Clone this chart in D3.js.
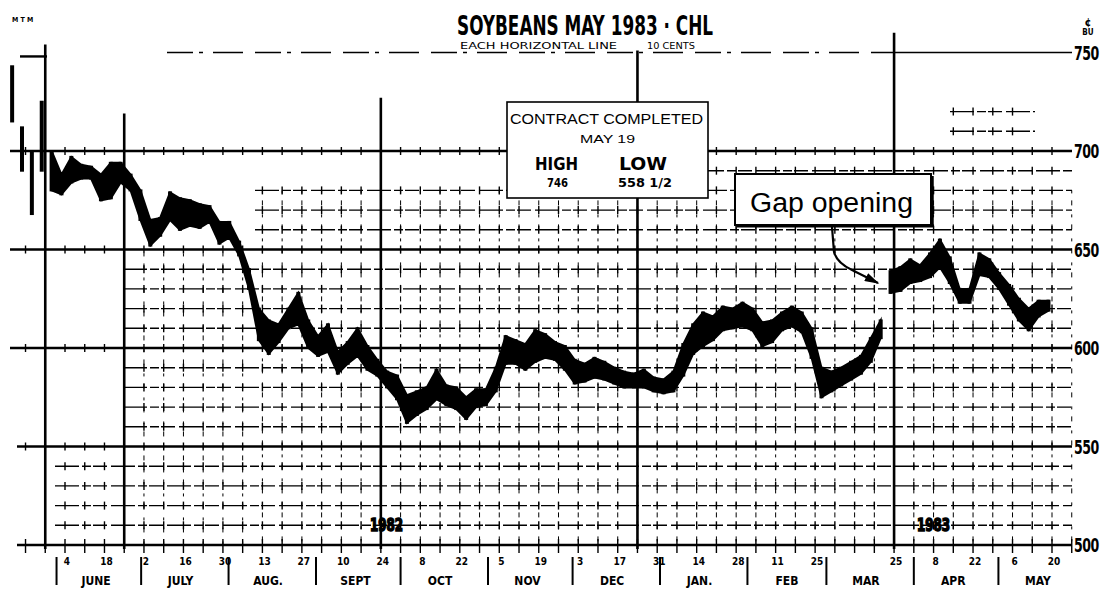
<html>
<head>
	<title>soybeans may 1983</title>
	<style>
		body { margin:0; padding:0; background:#fff; }
		svg { display:block; }
		.major { stroke:#000; stroke-width:2.4; }
		.minor { stroke:#000; stroke-width:1.4; stroke-dasharray:24,3,9,2,14,4; }
		.cross { stroke:#000; stroke-width:1.4; }
		.weekline { stroke:#000; stroke-width:1; stroke-dasharray:3,7,5,9; }
		.heavy { stroke:#000; stroke-width:2.6; }
		.cond { font-family:"DejaVu Sans Condensed","Liberation Sans Narrow",sans-serif; font-weight:bold; fill:#000; }
		.plain { font-family:"Liberation Sans",Arial,sans-serif; fill:#000; }
	</style>
</head>
<body>
<svg width="1105" height="589"></svg>
<script src="https://d3js.org/d3.v7.min.js"></script>
<script>
	// half-week high / low in cents (first bar mid May 1982)
	var firstBar = new Date(1982, 4, 16, 6);
	var highs = [743,712,699,725,700,688,697,693,692,688,
		694,694,688,680,665,666,679,676,675,673,
		672,664,664,654,640,620,614,612,620,628,
		614,606,612,598,603,610,601,594,588,586,
		576,578,580,589,581,580,575,579,579,590,
		606,604,602,609,607,603,601,594,592,595,
		593,590,588,587,589,585,584,588,602,612,
		618,616,621,620,623,620,613,614,618,621,
		618,610,590,588,590,593,596,605,614,639,
		641,645,642,648,655,646,630,630,648,645,
		638,632,625,620,624,624];
	var lows = [715,690,668,690,680,678,684,686,686,675,
		676,684,680,665,652,657,665,660,662,661,
		664,653,656,647,630,604,597,603,610,612,
		600,596,598,587,592,596,589,586,580,574,
		562,566,569,574,571,569,564,570,571,578,
		592,592,589,593,595,594,589,582,583,585,
		584,582,580,580,580,578,577,578,586,597,
		601,604,609,610,611,609,601,603,609,611,
		608,595,575,578,581,584,587,593,605,628,
		629,633,634,636,641,633,623,623,637,636,
		630,622,614,609,616,619];
	var gapAfter = 88;   // last bar before the March gap

	var priceLabels = [750,700,650,600,550,500];
	var monthNames = ["JUNE","JULY","AUG.","SEPT","OCT","NOV","DEC","JAN.","FEB","MAR","APR","MAY"];
	var monthStarts = ["1982-06-01","1982-07-01","1982-08-01","1982-09-01","1982-10-01","1982-11-01",
		"1982-12-01","1983-01-01","1983-02-01","1983-03-01","1983-04-01","1983-05-01"];
	var tickDates = ["1982-06-04","1982-06-18","1982-07-02","1982-07-16","1982-07-30","1982-08-13",
		"1982-08-27","1982-09-10","1982-09-24","1982-10-08","1982-10-22","1982-11-05","1982-11-19",
		"1982-12-03","1982-12-17","1982-12-31","1983-01-14","1983-01-28","1983-02-11","1983-02-25",
		"1983-03-25","1983-04-08","1983-04-22","1983-05-06","1983-05-20"];
	var contractLines = ["1982-05-28","1982-06-25","1982-09-24","1982-12-24","1983-03-25"];
	var contractTops = [754,719,727,751,760];
	var years = ["1982","1983"];
	var yearDates = ["1982-09-26","1983-04-08"];

	var parse = d3.timeParse("%Y-%m-%d");
	var svg = d3.select("svg");

	var x = d3.scaleTime().domain([new Date(1982,5,4), new Date(1983,4,20)]).range([65,1052]);
	var y = d3.scaleLinear().domain([500,750]).range([545,52.5]);
	var right = 1072;

	var fridays = d3.timeFriday.range(new Date(1982,4,20), new Date(1983,4,28));

	// faint broken weekly columns
	svg.selectAll(".weekline").data(fridays.filter(function(f){ return x(f) > 130 && x(f) < right; }))
		.enter().append("line")
		.attr("class","weekline")
		.attr("x1", function(d){ return x(d); }).attr("x2", function(d){ return x(d); })
		.attr("y1", function(d){ return x(d) > 250 ? y(680) : y(648); }).attr("y2", y(500));

	// minor grid lines, every 10 cents
	var minors = d3.range(510, 750, 10).filter(function(p){ return p % 50 != 0 && p < 730; });
	function minorFrom(p) {
		if (p >= 710) return 950;
		if (p == 690) return 700;
		if (p >= 660) return 255;
		if (p >= 560) return 123;
		return 55;
	}
	function minorTo(p) { return p >= 710 ? 1035 : right; }

	svg.selectAll(".minor").data(minors).enter().append("line")
		.attr("class","minor")
		.attr("x1", minorFrom).attr("x2", minorTo)
		.attr("y1", function(d){ return y(d); }).attr("y2", function(d){ return y(d); });

	// little crosses where weekly columns meet the lines
	var crosses = [];
	minors.concat([700,650,600,550]).forEach(function(p){
		var from = p % 50 == 0 ? 10 : minorFrom(p), to = p % 50 == 0 ? right : minorTo(p);
		fridays.forEach(function(f){
			var fx = x(f);
			if (fx > from + 3 && fx < to - 3) crosses.push({f:f, p:p});
		});
	});
	svg.selectAll(".cross").data(crosses).enter().append("line")
		.attr("class","cross")
		.attr("x1", function(d){ return x(d.f); }).attr("x2", function(d){ return x(d.f); })
		.attr("y1", function(d){ return y(d.p) - 4; }).attr("y2", function(d){ return y(d.p) + 4; });

	// major lines
	svg.selectAll(".major").data([700,650,600,550,500]).enter().append("line")
		.attr("class","major")
		.attr("x1", function(d){ return d >= 600 ? 10 : 17; }).attr("x2", right)
		.attr("y1", function(d){ return y(d); }).attr("y2", function(d){ return y(d); });

	// the 750 line is broken up on the original
	svg.append("line").attr("class","major").attr("x1",20).attr("x2",47).attr("y1",y(748)).attr("y2",y(748));
	svg.append("line").attr("class","minor").attr("x1",167).attr("x2",x(parse("1983-03-25"))).attr("y1",y(750)).attr("y2",y(750))
		.style("stroke-dasharray","26,6,4,10,30,12");
	svg.append("line").attr("class","major").style("stroke-width",1.6).attr("x1",x(parse("1983-03-25"))).attr("x2",right).attr("y1",y(750)).attr("y2",y(750));

	// heavy contract lines
	svg.selectAll(".heavy").data(contractLines).enter().append("line")
		.attr("class","heavy")
		.attr("x1", function(d){ return x(parse(d)); }).attr("x2", function(d){ return x(parse(d)); })
		.attr("y1", function(d,i){ return y(contractTops[i]); }).attr("y2", 549);

	// bottom axis ticks
	svg.selectAll(".axtick").data(fridays).enter().append("line")
		.attr("class","cross")
		.attr("x1", function(d){ return x(d); }).attr("x2", function(d){ return x(d); })
		.attr("y1", 539).attr("y2", 553);

	svg.selectAll(".daylab").data(tickDates).enter().append("text")
		.attr("class","cond")
		.attr("x", function(d){ return x(parse(d)) + 2; })
		.attr("y", 565)
		.attr("text-anchor","middle")
		.style("font-size","10px")
		.text(function(d){ return +d.slice(8); });

	svg.selectAll(".msep").data(monthStarts).enter().append("line")
		.attr("class","heavy").style("stroke-width",2)
		.attr("x1", function(d){ return x(parse(d)); }).attr("x2", function(d){ return x(parse(d)); })
		.attr("y1", 557).attr("y2", 585);

	svg.selectAll(".mlab").data(monthNames).enter().append("text")
		.attr("class","cond")
		.attr("x", function(d,i){ return x(d3.timeDay.offset(parse(monthStarts[i]), 14)); })
		.attr("y", 585)
		.attr("text-anchor","middle")
		.style("font-size","12px")
		.text(function(d){ return d; });

	// price labels on the right, tall and narrow
	svg.selectAll(".plab").data(priceLabels).enter().append("text")
		.attr("class","cond")
		.attr("transform", function(d){ return "translate(1074," + (y(d) + 7) + ") scale(1,1.45)"; })
		.style("font-size","14px")
		.style("letter-spacing","-0.5px")
		.text(function(d){ return d; });
	svg.append("text").attr("class","cond").attr("x",1088).attr("y",26).attr("text-anchor","middle").style("font-size","11px").text("¢");
	svg.append("text").attr("class","cond").attr("x",1088).attr("y",35).attr("text-anchor","middle").style("font-size","8px").text("BU");
	svg.append("text").attr("class","cond").attr("x",12).attr("y",22).style("font-size","7px").text("M   T   M");

	// price bars: a thin high-low bar for every point, plus a ragged band split at the gap
	var bars = highs.map(function(h,i){
		return { d: d3.timeHour.offset(firstBar, i*84), hi: h, lo: lows[i], i: i };
	});
	var area = d3.area()
		.x(function(d){ return x(d.d); })
		.y0(function(d){ return y(d.lo); })
		.y1(function(d){ return y(d.hi); })
		.curve(d3.curveLinear);
	var segments = [
		bars.filter(function(d){ return d.i >= 4 && d.i <= gapAfter; }),
		bars.filter(function(d){ return d.i > gapAfter; })
	];
	svg.selectAll(".band").data(segments).enter().append("path")
		.attr("class","band")
		.attr("d", area)
		.attr("fill","#000").attr("stroke","#000").attr("stroke-width",2).attr("stroke-linejoin","miter");
	svg.selectAll(".bar").data(bars).enter().append("rect")
		.attr("class","bar")
		.attr("x", function(d){ return x(d.d) - 2; })
		.attr("width", 4)
		.attr("y", function(d){ return y(d.hi) - 1; })
		.attr("height", function(d){ return y(d.lo) - y(d.hi) + 2; })
		.attr("fill","#000");

	svg.selectAll(".year").data(years).enter().append("text")
		.attr("class","cond")
		.attr("x", function(d,i){ return x(parse(yearDates[i])); })
		.attr("y", y(507))
		.attr("text-anchor","middle")
		.attr("textLength", 33).attr("lengthAdjust","spacingAndGlyphs")
		.style("font-size","17px")
		.style("stroke","#000").style("stroke-width",1.5)
		.text(function(d){ return d; });

	// title
	svg.append("text").attr("class","cond").attr("x",457).attr("y",35)
		.attr("textLength",256).attr("lengthAdjust","spacingAndGlyphs")
		.style("font-size","26px").text("SOYBEANS MAY 1983 · CHL");
	svg.append("text").attr("class","cond").attr("x",460).attr("y",49)
		.attr("textLength",157).attr("lengthAdjust","spacingAndGlyphs")
		.style("font-size","8px").style("font-weight","normal").text("EACH HORIZONTAL LINE");
	svg.append("text").attr("class","cond").attr("x",647).attr("y",49)
		.attr("textLength",48).attr("lengthAdjust","spacingAndGlyphs")
		.style("font-size","8px").style("font-weight","normal").text("10 CENTS");

	// contract completed box
	var box = svg.append("g");
	box.append("rect").attr("x",507).attr("y",102).attr("width",201).attr("height",96)
		.attr("fill","#fff").attr("stroke","#000").attr("stroke-width",1.6);
	box.append("text").attr("class","plain").attr("x",510).attr("y",124)
		.attr("textLength",193).attr("lengthAdjust","spacingAndGlyphs")
		.style("font-size","14px").text("CONTRACT COMPLETED");
	box.append("text").attr("class","plain").attr("x",580).attr("y",143)
		.attr("textLength",55).attr("lengthAdjust","spacingAndGlyphs")
		.style("font-size","11px").text("MAY 19");
	box.append("text").attr("class","cond").attr("x",535).attr("y",170)
		.attr("textLength",43).attr("lengthAdjust","spacingAndGlyphs")
		.style("font-size","18px").text("HIGH");
	box.append("text").attr("class","cond").attr("x",619).attr("y",170)
		.attr("textLength",48).attr("lengthAdjust","spacingAndGlyphs")
		.style("font-size","18px").text("LOW");
	box.append("text").attr("class","cond").attr("x",547).attr("y",187)
		.attr("textLength",21).attr("lengthAdjust","spacingAndGlyphs")
		.style("font-size","13px").text("746");
	box.append("text").attr("class","cond").attr("x",618).attr("y",187)
		.attr("textLength",54).attr("lengthAdjust","spacingAndGlyphs")
		.style("font-size","13px").text("558 1/2");

	// gap opening callout
	var gap = svg.append("g");
	gap.append("rect").attr("x",735).attr("y",174).attr("width",196).attr("height",51)
		.attr("fill","#fff").attr("stroke","#000").attr("stroke-width",2);
	gap.append("line").attr("x1",932).attr("x2",932).attr("y1",176).attr("y2",226).attr("stroke","#000").attr("stroke-width",3.5);
	gap.append("line").attr("x1",737).attr("x2",933).attr("y1",226).attr("y2",226).attr("stroke","#000").attr("stroke-width",3);
	gap.append("text").attr("class","plain").attr("x",750).attr("y",212)
		.attr("textLength",163).attr("lengthAdjust","spacingAndGlyphs")
		.style("font-size","27px").text("Gap opening");

	svg.append("defs").append("marker")
		.attr("id","head").attr("viewBox","0 0 10 6").attr("refX",9).attr("refY",3)
		.attr("markerWidth",7).attr("markerHeight",4).attr("orient","auto")
		.append("path").attr("d","M0,0 L10,3 L0,6 Z").attr("fill","#000");
	svg.append("path")
		.attr("d","M832,227 L834,252 Q837,263 852,270 L878,283")
		.attr("fill","none").attr("stroke","#000").attr("stroke-width",2.2)
		.attr("marker-end","url(#head)");
</script>
</body>
</html>
